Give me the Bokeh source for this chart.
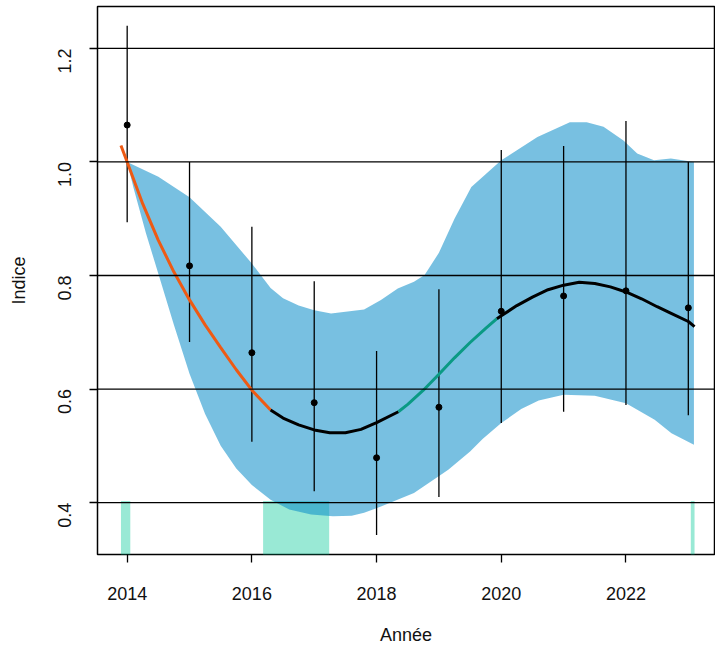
import math
from bokeh.plotting import figure
from bokeh.models import Span, FixedTicker, Range1d, PrintfTickFormatter
from bokeh.embed import file_html
from bokeh.resources import INLINE

# ---- data ----
years = [2014, 2015, 2016, 2017, 2018, 2019, 2020, 2021, 2022, 2023]
index_vals = [1.065, 0.817, 0.664, 0.576, 0.479, 0.568, 0.737, 0.764, 0.773, 0.743]
lower_ci = [0.894, 0.683, 0.507, 0.420, 0.343, 0.410, 0.540, 0.560, 0.572, 0.554]
upper_ci = [1.240, 1.000, 0.886, 0.790, 0.667, 0.776, 1.021, 1.028, 1.072, 1.000]

# fitted trend (segments coloured by significance of change)
trend_dec_x = [2013.90, 2014.00, 2014.25, 2014.50, 2014.75, 2015.00, 2015.25, 2015.50, 2015.75, 2016.00, 2016.30]
trend_dec_y = [1.029, 1.000, 0.926, 0.862, 0.806, 0.757, 0.713, 0.673, 0.634, 0.598, 0.563]
trend_flat1_x = [2016.30, 2016.50, 2016.75, 2017.00, 2017.25, 2017.50, 2017.75, 2018.00, 2018.35]
trend_flat1_y = [0.563, 0.549, 0.537, 0.528, 0.523, 0.523, 0.529, 0.541, 0.560]
trend_inc_x = [2018.35, 2018.50, 2018.75, 2019.00, 2019.25, 2019.50, 2019.75, 2019.93]
trend_inc_y = [0.560, 0.573, 0.598, 0.626, 0.655, 0.682, 0.707, 0.724]
trend_flat2_x = [2019.93, 2020.00, 2020.25, 2020.50, 2020.75, 2021.00, 2021.25, 2021.50, 2021.75, 2022.00, 2022.25, 2022.50, 2022.75, 2023.00, 2023.10]
trend_flat2_y = [0.724, 0.729, 0.747, 0.762, 0.775, 0.783, 0.788, 0.786, 0.780, 0.771, 0.759, 0.745, 0.732, 0.719, 0.710]

# confidence band of the trend
band_up_x = [2014.00, 2014.50, 2015.00, 2015.50, 2016.00, 2016.30, 2016.50, 2016.75, 2017.00, 2017.27, 2017.80, 2018.07, 2018.34, 2018.60, 2018.77, 2019.00, 2019.25, 2019.52, 2020.00, 2020.58, 2021.10, 2021.37, 2021.64, 2021.96, 2022.18, 2022.45, 2022.72, 2023.09]
band_up_y = [1.000, 0.974, 0.938, 0.886, 0.821, 0.778, 0.760, 0.747, 0.739, 0.733, 0.740, 0.757, 0.777, 0.789, 0.801, 0.840, 0.900, 0.956, 1.003, 1.044, 1.070, 1.070, 1.062, 1.038, 1.015, 1.003, 1.006, 1.000]
band_lo_x = [2014.00, 2014.10, 2014.30, 2014.50, 2014.75, 2015.00, 2015.25, 2015.50, 2015.75, 2016.00, 2016.30, 2016.60, 2016.95, 2017.30, 2017.60, 2017.80, 2018.07, 2018.60, 2019.15, 2019.50, 2019.70, 2020.00, 2020.32, 2020.60, 2021.00, 2021.50, 2022.00, 2022.46, 2022.73, 2023.09]
band_lo_y = [1.000, 0.955, 0.875, 0.803, 0.713, 0.627, 0.556, 0.500, 0.460, 0.431, 0.405, 0.388, 0.379, 0.376, 0.377, 0.382, 0.393, 0.417, 0.458, 0.490, 0.512, 0.540, 0.565, 0.580, 0.590, 0.588, 0.575, 0.546, 0.522, 0.502]

# periods of significant change (bars at the bottom)
sig_start = [2013.90, 2016.18, 2023.04]
sig_end = [2014.05, 2017.24, 2023.10]
sig_top = 0.403

y_ticks = [0.4, 0.6, 0.8, 1.0, 1.2]
x_ticks = [2014, 2016, 2018, 2020, 2022]

FONT = "Liberation Sans"

p = figure(width=715, height=647, output_backend="svg", toolbar_location=None,
           x_range=Range1d(2013.524, 2023.42), y_range=Range1d(0.3086, 1.2738),
           min_border_left=97, min_border_right=1, min_border_top=6, min_border_bottom=92)
p.background_fill_color = "white"
p.border_fill_color = "white"
p.outline_line_color = "black"
p.outline_line_width = 1.5
p.xgrid.visible = False
p.ygrid.visible = False

# significance bars
p.quad(left=sig_start, right=sig_end, bottom=0.25, top=sig_top,
       fill_color="#00C896", fill_alpha=0.4, line_color=None)

# confidence band
p.patch(x=band_up_x + band_lo_x[::-1], y=band_up_y + band_lo_y[::-1],
        fill_color="#0A8CC8", fill_alpha=0.55, line_color=None)

# horizontal reference lines
for v in y_ticks:
    p.add_layout(Span(location=v, dimension="width", line_color="black", line_width=1.3))

# error bars
p.segment(x0=years, y0=lower_ci, x1=years, y1=upper_ci, line_color="black", line_width=1.3)

# trend
p.line(trend_dec_x, trend_dec_y, line_color="#EE5A14", line_width=3)
p.line(trend_flat1_x, trend_flat1_y, line_color="black", line_width=3)
p.line(trend_inc_x, trend_inc_y, line_color="#0A9A84", line_width=3)
p.line(trend_flat2_x, trend_flat2_y, line_color="black", line_width=3)

# observed index
p.scatter(years, index_vals, marker="circle", size=6, fill_color="black", line_color="black")

# axes
for ax in (p.xaxis[0], p.yaxis[0]):
    ax.axis_line_color = None
    ax.major_tick_line_color = "black"
    ax.major_tick_line_width = 1.3
    ax.major_tick_out = 8
    ax.major_tick_in = 0
    ax.minor_tick_line_color = None
    ax.major_label_text_font = FONT
    ax.major_label_text_font_size = "18px"
    ax.major_label_text_color = "#111111"
    ax.axis_label_text_font = FONT
    ax.axis_label_text_font_size = "18px"
    ax.axis_label_text_font_style = "normal"
    ax.axis_label_text_color = "#111111"

p.xaxis.ticker = FixedTicker(ticks=x_ticks)
p.yaxis.ticker = FixedTicker(ticks=y_ticks)
p.yaxis.formatter = PrintfTickFormatter(format="%.1f")
p.xaxis.axis_label = "Année"
p.yaxis.axis_label = "Indice"
p.yaxis.major_label_orientation = math.pi / 2
p.xaxis.major_label_standoff = 24
p.yaxis.major_label_standoff = 25
p.xaxis.axis_label_standoff = 22
p.yaxis.axis_label_standoff = 20

open("out.html", "w").write(file_html(p, INLINE))
